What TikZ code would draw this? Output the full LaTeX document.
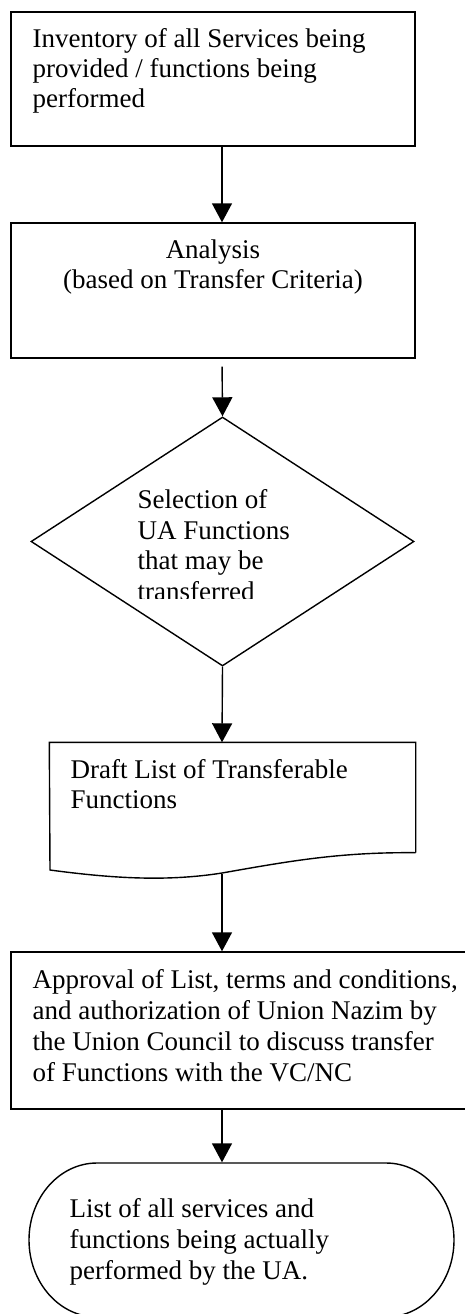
\documentclass[tikz,border=0pt]{standalone}
\usepackage{fontspec}
\setmainfont{Liberation Serif}
\usetikzlibrary{shapes.geometric,arrows.meta,calc}
\newcommand\tstrut{\rule{0pt}{20pt}}
\begin{document}
\begin{tikzpicture}[x=1pt,y=1pt,
  line width=1.4pt,
  boxnode/.style={draw, rectangle, inner sep=0pt},
  hidden/.style={rectangle, inner sep=0pt},
  txt/.style={inner sep=0pt, font=\fontsize{27}{30}\selectfont},
  txtd/.style={inner sep=0pt, font=\fontsize{27}{30.5}\selectfont},
  txtw/.style={inner sep=0pt, font=\fontsize{27}{31}\selectfont},
  arr/.style={-{Triangle[width=20pt,length=19pt]}, line width=1.4pt}]
\useasboundingbox (0,0) rectangle (464,-1314);
\coordinate (ax) at (222,0);

% box 1
\node[boxnode, minimum width=404pt, minimum height=134pt] (b1) at (213,-79) {};
\node[txt, anchor=north west, align=left] (t1) at (32,-27)
  {\tstrut Inventory of all Services being\\provided / functions being\\performed};

% box 2
\node[boxnode, minimum width=404pt, minimum height=135pt] (b2) at (213,-290.5) {};
\node[txt, anchor=north, align=center] (t2) at (213,-238)
  {\tstrut Analysis\\(based on Transfer Criteria)};

% diamond
\node[draw, diamond, inner sep=0pt, minimum width=383pt, minimum height=249pt] (dia) at (222.5,-541.5) {};
\begin{scope}
  \clip (100,-420) rectangle (360,-598);
  \node[txtd, anchor=north west, align=left] (t3) at (137,-488)
    {\tstrut Selection of\\UA Functions\\that may be\\transferred};
\end{scope}

% document shape
\node[hidden, minimum width=365pt, minimum height=109pt] (d) at (232.5,-797.5) {};
\draw (d.south east) -- (d.north east) -- (d.north west) -- (50,-870)
  .. controls (110,-878) and (165,-882) .. (222,-873)
  .. controls (290,-861) and (340,-852) .. (d.south east);
\coordinate (dw) at (222,-874);
\node[txt, anchor=north west, align=left] (t4) at (70,-758)
  {\tstrut Draft List of Transferable\\Functions};

% box 5
\node[boxnode, minimum width=459pt, minimum height=157pt] (b5) at (240.5,-1030.5) {};
\node[txtw, anchor=north west, align=left] (t5) at (32,-968)
  {\tstrut Approval of List, terms and conditions,\\and authorization of Union Nazim by\\the Union Council to discuss transfer\\of Functions with the VC/NC};

% terminator
\node[hidden, minimum width=425pt, minimum height=154pt] (term) at (241.5,-1240) {};
\draw (97,-1163) -- (386,-1163)
  arc[start angle=90, end angle=-90, x radius=68, y radius=77]
  -- (97,-1317)
  arc[start angle=270, end angle=90, x radius=68, y radius=77] -- cycle;
\node[txtw, anchor=north west, align=left] (t6) at (69,-1197)
  {\tstrut List of all services and\\functions being actually\\performed by the UA.};

% arrows
\draw[arr] (b1.south -| ax) -- (b2.north -| ax);
\draw[arr, shorten <=8pt] (b2.south -| ax) -- (dia.north);
\draw[arr] (dia.south) -- (d.north -| ax);
\draw[arr] (dw) -- (b5.north -| ax);
\draw[arr] (b5.south -| ax) -- (term.north -| ax);
\end{tikzpicture}
\end{document}
